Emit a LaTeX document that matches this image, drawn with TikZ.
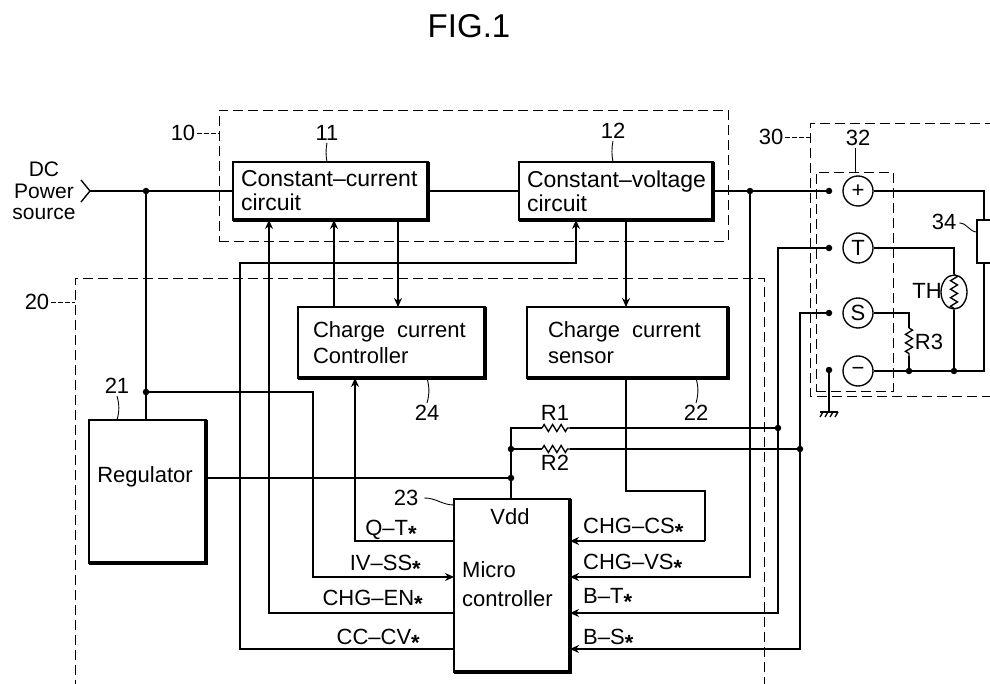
\documentclass[tikz,border=0pt]{standalone}
\usepackage{fontspec}
\setmainfont{Liberation Sans}
\usepackage{xcolor}
\usepackage{tikz}
\usetikzlibrary{shapes.geometric,positioning,arrows.meta,decorations.pathmorphing}

\newcommand{\sigstar}{\raisebox{-.28em}{\textbf{*}}}

\tikzset{
    wire/.style={line width=1.35pt},
    thickwire/.style={line width=2.2pt},
    >={Stealth[length=9pt,width=8pt]},
    dashbox/.style={line width=0.9pt, dash pattern=on 10pt off 5pt},
    leader/.style={line width=0.9pt, dash pattern=on 5pt off 2pt},
    circuitbox/.style={rectangle, draw=black, line width=1.4pt, outer sep=0pt, align=left, font=\fontsize{23}{24}\selectfont},
    chargebox/.style={circuitbox, font=\fontsize{22}{26}\selectfont},
    junction/.style={circle, fill=black, inner sep=0pt, minimum size=6.5pt},
    terminal/.style={circle, draw=black, line width=1.35pt, inner sep=0pt, minimum size=30pt, font=\fontsize{22}{22}\selectfont},
    lbl/.style={inner sep=0pt, font=\fontsize{22}{22}\selectfont},
    resistor/.style={wire, decorate, decoration={zigzag, amplitude=3.5pt, segment length=8.5pt}}
}

\begin{document}
\begin{tikzpicture}[x=1pt, y=-1pt]
    \useasboundingbox (0,0) rectangle (990,684);

    % Title
    \node [inner sep=0pt, font=\fontsize{33}{33}\selectfont] (fig_title) at (469,26) {FIG.1};

    % Constant-current circuit - top left
    \node [circuitbox, text width=179pt, inner xsep=8pt, minimum height=58pt] (cc_circuit) at (330.5,191) {\mbox{Constant–current}\\circuit};

    % Constant-voltage circuit - top right
    \node [circuitbox, text width=178pt, inner xsep=8pt, minimum height=58pt, right=91pt of cc_circuit] (cv_circuit) {\mbox{Constant–voltage}\\circuit};

    % Charge current controller - middle left
    \node [chargebox, text width=157pt, inner xsep=15pt, minimum height=71pt] (cc_control) at (391.5,342.5) {Charge\hspace{.55em}current\\Controller};

    % Charge current sensor - middle right
    \node [chargebox, text width=159pt, inner xsep=21pt, minimum height=71pt, right=42pt of cc_control] (cc_sensor) {Charge\hspace{.55em}current\\sensor};

    % Regulator - bottom left
    \node [circuitbox, minimum width=117pt, minimum height=143pt] (regulator) at (147.5,491.5) {};
    \node [lbl] (regulator_lbl) at (145,477) {Regulator};

    % Microcontroller - bottom center
    \node [circuitbox, minimum width=116pt, minimum height=173pt] (micro) at (512,585.5) {};
    \node [lbl] (vdd_lbl) at (510,517) {Vdd};
    \node [lbl, align=left, anchor=north west, font=\fontsize{22}{29}\selectfont] (micro_lbl) at (462,561) {Micro\\controller};

    % Heavy right and bottom edges
    \foreach \b in {cc_circuit,cv_circuit,cc_control,cc_sensor,regulator,micro} {
        \draw [line width=3.2pt] (\b.south west) -- (\b.south east) -- (\b.north east);
    }

    % Dashed groups
    \node [rectangle, draw=black, dashbox, minimum width=509pt, minimum height=131pt, outer sep=0pt] (charger_box) at (473.5,175.5) {};
    \coordinate (ctrl_nw) at (75,278);
    \coordinate (ctrl_ne) at (764,278);
    \draw [dashbox] (75,690) -- (ctrl_nw) -- (ctrl_ne) -- (764,690);
    \coordinate (pack_nw) at (810,123);
    \draw [dashbox] (995,123) -- (pack_nw) -- (810,396) -- (995,396);
    \node [rectangle, draw=black, dashbox, minimum width=77pt, minimum height=219pt, outer sep=0pt] (term_box) at (854.5,281.5) {};

    % Battery terminals
    \node [terminal] (term_p) at (858,191) {+};
    \node [terminal] (term_t) at (858,248) {T};
    \node [terminal] (term_s) at (858,313) {S};
    \node [terminal] (term_m) at (858,371) {−};
    \node [junction] (dot_p) at (829,191) {};
    \node [junction] (dot_t) at (829,248) {};
    \node [junction] (dot_s) at (829,313) {};
    \node [junction] (dot_m) at (829,370) {};

    % Battery and thermistor
    \node [rectangle, draw=black, line width=1.4pt, minimum width=26pt, minimum height=43pt, outer sep=0pt] (batt) at (990,241.5) {};
    \node [ellipse, draw=black, line width=1.35pt, minimum width=26pt, minimum height=34pt, inner sep=0pt] (th) at (954,292) {};
    \draw [resistor] (th.north) -- (th.south);

    % Junctions
    \node [junction] (j_in) at (146,191) {};
    \node [junction] (j_reg) at (146,392) {};
    \node [junction] (j_out) at (750,191) {};
    \node [junction] (j_vdd) at (511,478) {};
    \node [junction] (j_r2) at (511,449) {};
    \node [junction] (j_bt) at (778,428) {};
    \node [junction] (j_bs) at (800,449) {};
    \node [junction] (j_r3) at (909,371) {};
    \node [junction] (j_th) at (954,371) {};

    % Wire end points
    \coordinate (dc_in) at (90,191);
    \coordinate (iv_bend) at (313,392);
    \coordinate (iv_in) at (454,577);
    \coordinate (qt_out) at (454,541);
    \coordinate (qt_up) at (355,378);
    \coordinate (en_out) at (454,613);
    \coordinate (en_up) at (269,220);
    \coordinate (cv_out) at (454,649);
    \coordinate (cv_bend) at (240,263);
    \coordinate (cv_up) at (576,220);
    \coordinate (cs_a) at (626,491);
    \coordinate (cs_b) at (705,541);
    \coordinate (cs_in) at (570,541);
    \coordinate (vs_in) at (570,577);
    \coordinate (bt_in) at (570,613);
    \coordinate (bs_in) at (570,649);
    \coordinate (r1_corner) at (511,428);
    \coordinate (r1_l) at (542,428);
    \coordinate (r1_r) at (570,428);
    \coordinate (r2_l) at (542,449);
    \coordinate (r2_r) at (570,449);
    \coordinate (r3_top) at (909,313);
    \coordinate (r3_a) at (909,328);
    \coordinate (r3_b) at (909,356);
    \coordinate (th_top) at (954,248);
    \coordinate (batt_top) at (984,191);
    \coordinate (batt_bot) at (984,371);
    \coordinate (gnd) at (829,412);

    % Power path
    \draw [wire] (dc_in) ++(-9,-11) -- (dc_in) -- ++(-9,11);
    \draw [wire] (dc_in) -- (j_in) -- (cc_circuit);
    \draw [wire] (cc_circuit) -- (cv_circuit);
    \draw [wire] (cv_circuit) -- (j_out) -- (dot_p);
    \draw [wire] (j_in) -- (regulator.north -| j_in);
    \draw [wire] (regulator.east |- j_vdd) -- (j_vdd);
    \draw [wire] (micro.north -| j_vdd) -- (j_vdd) -- (j_r2) -- (r1_corner) -- (r1_l);
    \draw [resistor] (r1_l) -- (r1_r);
    \draw [wire] (r1_r) -- (j_bt);
    \draw [wire] (j_r2) -- (r2_l);
    \draw [resistor] (r2_l) -- (r2_r);
    \draw [wire] (r2_r) -- (j_bs);

    % Signals between the blocks
    \draw [thickwire, ->] (cc_control.north -| 334,0) -- (cc_circuit.south -| 334,0);
    \draw [wire, ->] (cc_circuit.south -| 398,0) -- (cc_control.north -| 398,0);
    \draw [wire, ->] (cv_circuit.south -| cs_a) -- (cc_sensor.north -| cs_a);
    \draw [wire] (cc_sensor.south -| cs_a) -- (cs_a) -| (cs_b);

    % Microcontroller left side
    \draw [wire, ->] (j_reg) -- (iv_bend) |- (iv_in);
    \draw [wire, ->] (qt_out) -| (qt_up);
    \draw [wire, ->] (en_out) -| (en_up);
    \draw [wire, ->] (cv_out) -| (cv_bend) -| (cv_up);

    % Microcontroller right side
    \draw [wire, ->] (cs_b) -- (cs_in);
    \draw [wire, ->] (j_out) |- (vs_in);
    \draw [wire, ->] (dot_t) -| (j_bt) |- (bt_in);
    \draw [wire, ->] (dot_s) -| (j_bs) |- (bs_in);

    % Battery pack wiring
    \draw [wire] (term_p) -- (batt_top) -- (batt_top |- batt.north);
    \draw [wire] (batt_bot |- batt.south) -- (batt_bot) -- (j_th) -- (j_r3) -- (term_m);
    \draw [wire] (term_t) -- (th_top) -- (th);
    \draw [wire] (th) -- (j_th);
    \draw [wire] (term_s) -- (r3_top) -- (r3_a);
    \draw [resistor] (r3_a) -- (r3_b);
    \draw [wire] (r3_b) -- (j_r3);

    % Ground
    \draw [wire] (dot_m) -- (gnd);
    \draw [wire] (820,412) -- (838,412);
    \foreach \x in {823,828,833,838} {
        \draw [wire] (\x,412) -- ++(-3,5);
    }

    % Power source label
    \node [lbl, font=\fontsize{21}{21.5}\selectfont, align=center] (dc_lbl) at (44,191) {DC\\Power\\source};

    % Reference numbers
    \node [lbl] (num_10) at (183,133) {10};
    \node [lbl] (num_11) at (327,133) {11};
    \node [lbl] (num_12) at (613,131) {12};
    \node [lbl] (num_20) at (37,302) {20};
    \node [lbl] (num_21) at (117,386) {21};
    \node [lbl] (num_22) at (696,413) {22};
    \node [lbl] (num_23) at (406,498) {23};
    \node [lbl] (num_24) at (427,413) {24};
    \node [lbl] (num_30) at (771,137) {30};
    \node [lbl] (num_32) at (858,138) {32};
    \node [lbl] (num_34) at (944,222) {34};

    % Leaders
    \draw [leader] (num_10.east) ++(2,0) -- (charger_box.west |- num_10);
    \draw [leader] (num_20.east) ++(2,0) -- (ctrl_nw |- num_20);
    \draw [leader] (num_30.east) ++(2,0) -- (pack_nw |- num_30);
    \draw [wire, line width=0.9pt] (num_32.south -| 855,0) ++(0,2) -- (term_box.north -| 855,0);
    \draw [wire, line width=0.9pt] (num_11.south) ++(0,2) to[bend right=10] (cc_circuit.north -| num_11);
    \draw [wire, line width=0.9pt] (num_12.south) ++(0,2) to[bend right=10] (cv_circuit.north -| num_12);
    \draw [wire, line width=0.9pt] (num_21.south) ++(0,2) to[bend left=15] (regulator.north -| num_21);
    \draw [wire, line width=0.9pt] (cc_control.south -| num_24) to[bend left=15] ([yshift=2pt]num_24.north);
    \draw [wire, line width=0.9pt] (cc_sensor.south -| num_22) to[bend left=15] ([yshift=2pt]num_22.north);
    \draw [wire, line width=0.9pt] (num_23.east) ++(6,0) to[out=0,in=180] (micro.west |- 0,505);
    \draw [wire, line width=0.9pt] (num_34.east) ++(3,1) to[out=0,in=180] (batt.west |- 0,232);

    % Signal labels
    \node [lbl] (qt_lbl) at (391,531) {Q–T\sigstar};
    \node [lbl, anchor=east] (iv_lbl) at (421,566) {IV–SS\sigstar};
    \node [lbl, anchor=east] (en_lbl) at (423,601) {CHG–EN\sigstar};
    \node [lbl, anchor=east] (cc_lbl) at (420,640) {CC–CV\sigstar};
    \node [lbl, anchor=west] (cs_lbl) at (583,529) {CHG–CS\sigstar};
    \node [lbl, anchor=west] (vs_lbl) at (583,565) {CHG–VS\sigstar};
    \node [lbl, anchor=west] (bt_lbl) at (583,599) {B–T\sigstar};
    \node [lbl, anchor=west] (bs_lbl) at (583,640) {B–S\sigstar};

    % Component labels
    \node [lbl] (r1_lbl) at (555,413) {R1};
    \node [lbl] (r2_lbl) at (555,463) {R2};
    \node [lbl] (r3_lbl) at (929,342) {R3};
    \node [lbl] (th_lbl) at (927,291) {TH};

\end{tikzpicture}
\end{document}
